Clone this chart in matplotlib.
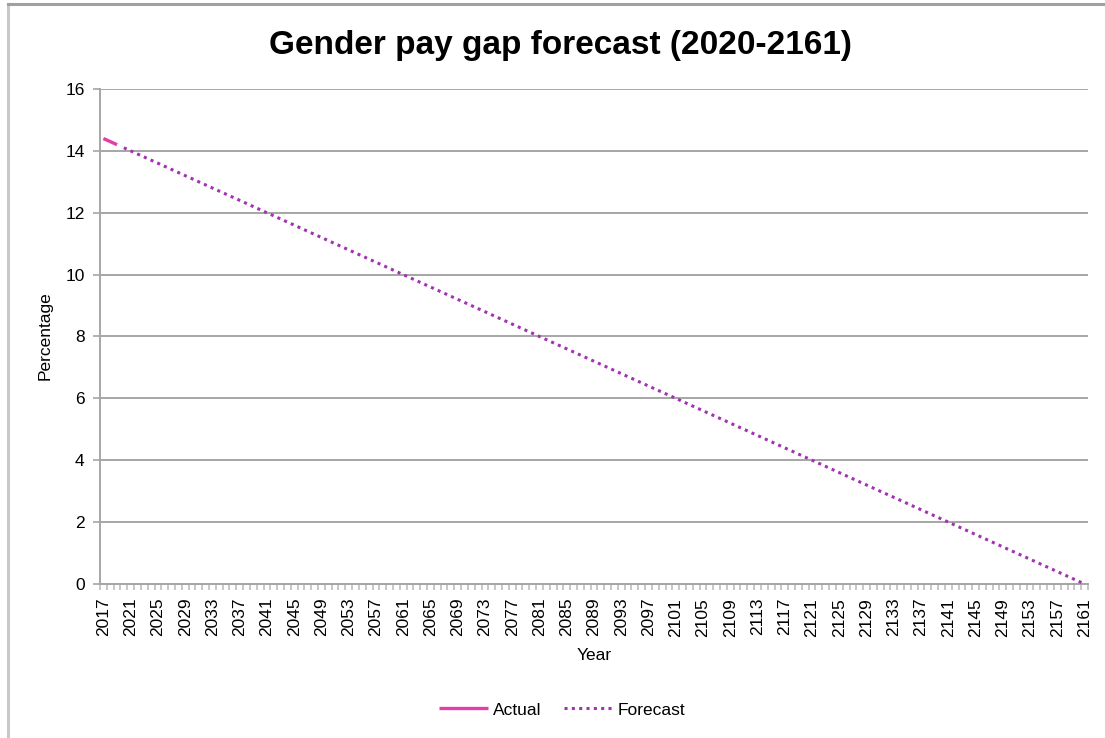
import numpy as np
import matplotlib
matplotlib.use('Agg')
import matplotlib.pyplot as plt
from matplotlib.lines import Line2D

plt.rcParams['font.family'] = ['Liberation Sans', 'DejaVu Sans']

# Years on the category axis
years = list(range(2017, 2162))

# Observed pay gap (%)
actual_years = [2017, 2018, 2019]
actual_values = [14.4, 14.3, 14.2]

# Straight-line forecast (%)
forecast_years = [2020, 2161]
forecast_values = [14.1, 0.0]

y_ticks = [0, 2, 4, 6, 8, 10, 12, 14, 16]

fig = plt.figure(figsize=(11.05, 7.38), dpi=100)
ax = fig.add_axes([0.0905, 0.2087, 0.8941, 0.6707])

pos = {yr: i for i, yr in enumerate(years)}
ax.plot([pos[y] for y in actual_years], actual_values, color='#E23FA6', lw=2.4,
        solid_capstyle='butt', label='Actual', zorder=3)
ax.plot([pos[y] for y in forecast_years], forecast_values, color='#A232B2', lw=2.2,
        linestyle=(0, (1, 1.4)), label='Forecast', zorder=3)

ax.set_xlim(-0.5, len(years) - 0.5)
ax.set_ylim(0, 16)
ax.set_yticks(y_ticks)
ax.set_yticklabels([str(v) for v in y_ticks], fontsize=12.5)

label_idx = list(range(0, len(years), 4))
ax.set_xticks(label_idx)
ax.set_xticklabels([str(years[i]) for i in label_idx], rotation=90, fontsize=12.5)
ax.tick_params(axis='x', length=0, pad=10)
ax.set_xticks(np.arange(-0.5, len(years), 1), minor=True)
ax.tick_params(axis='x', which='minor', length=4, width=1.2, color='#BDBDBD', direction='out')
ax.tick_params(axis='y', length=5, width=1.2, color='#A6A6A6', pad=6)

ax.grid(axis='y', color='#A6A6A6', lw=1.4)
ax.set_axisbelow(True)
for side in ['top', 'right']:
    ax.spines[side].set_visible(False)
ax.spines['left'].set_color('#A6A6A6')
ax.spines['left'].set_linewidth(1.4)
ax.spines['bottom'].set_color('#A6A6A6')
ax.spines['bottom'].set_linewidth(1.4)

fig.text(0.507, 0.939, 'Gender pay gap forecast (2020-2161)', ha='center', va='center',
         fontsize=24, fontweight='bold')
fig.text(0.041, 0.545, 'Percentage', rotation=90, ha='center', va='center', fontsize=12.5)
fig.text(0.5376, 0.112, 'Year', ha='center', va='center', fontsize=12.5)

fig.legend(loc='center', bbox_to_anchor=(0.509, 0.038), ncol=2, frameon=False,
           fontsize=12.5, handlelength=2.8, handletextpad=0.3, columnspacing=1.3)

# frame around the chart
fig.add_artist(Line2D([0.0068, 0.0068], [0, 0.995], transform=fig.transFigure,
                      color='#C8C8C8', lw=2.2))
fig.add_artist(Line2D([0.0068, 1], [0.995, 0.995], transform=fig.transFigure,
                      color='#A0A0A0', lw=2.2))

fig.savefig('out.png', dpi=100)
